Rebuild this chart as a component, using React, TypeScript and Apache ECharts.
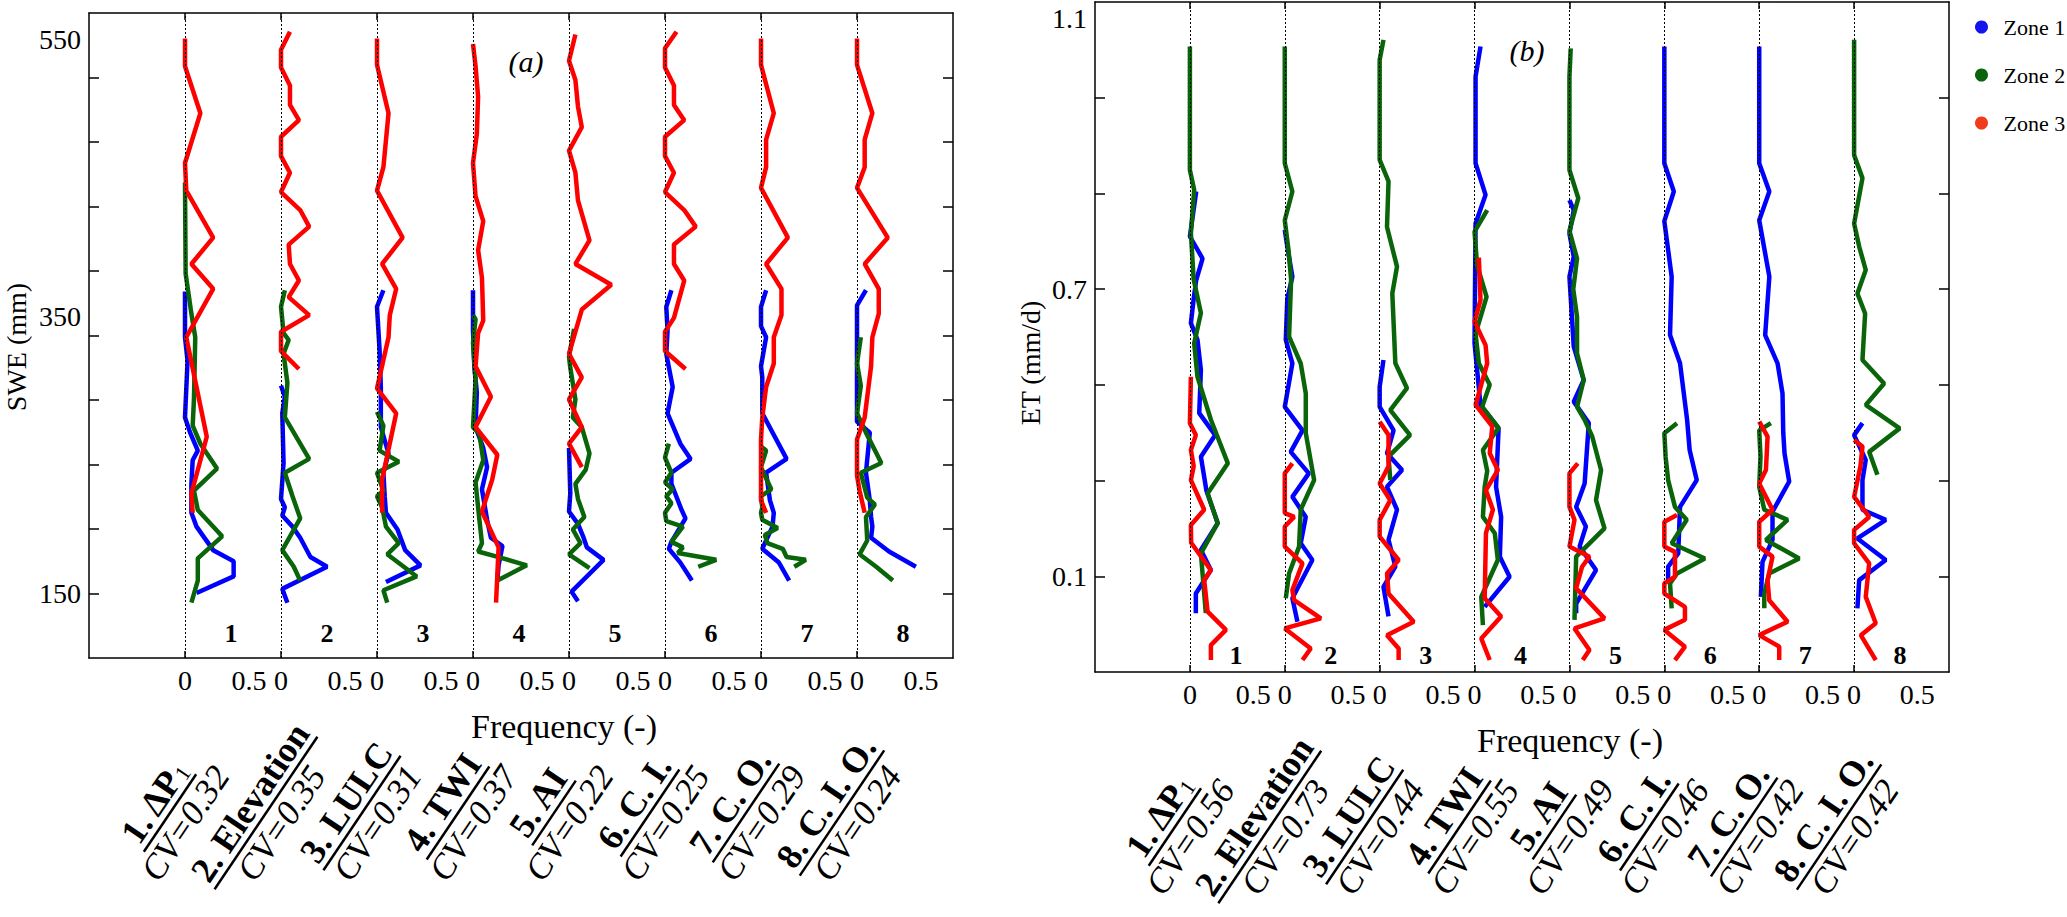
import { useEffect, useRef } from 'react';
import * as echarts from 'echarts';

type Pt = [number, number];

const FONT = 'Liberation Serif, Times New Roman, serif';

const ZONES = ['Zone 1', 'Zone 2', 'Zone 3'];
const ZONE_COLORS = ['#0000ff', '#0a650a', '#ff0000'];
const LEGEND_COLORS = ['#1414ee', '#0a650a', '#f23a1c'];

const COLUMN_NUMBERS = ['1', '2', '3', '4', '5', '6', '7', '8'];
const FACTORS = ['1. ΔP', '2. Elevation', '3. LULC', '4. TWI', '5. AI', '6. C. I.', '7. C. O.', '8. C. I. O.'];
const FACTOR_SUBS = ['1', '', '', '', '', '', '', ''];
const CV_SWE = [0.32, 0.35, 0.31, 0.37, 0.22, 0.25, 0.29, 0.24];
const CV_ET = [0.56, 0.73, 0.44, 0.55, 0.49, 0.46, 0.42, 0.42];

// every small panel takes 0.75 frequency units on the shared x axis
const COL_STEP = 0.75;
const FREQ_TICKS = [0, 0.5];
const FREQ_TICK_TEXT = ['0', '0.5'];

const SWE_LABELS = [150, 350, 550];
const SWE_TICKS = [150, 200, 250, 300, 350, 400, 450, 500, 550];
const ET_LABELS = ['0.1', '0.7', '1.1'];
const ET_LABEL_AT = [0.1, 0.7, 1.265];
const ET_TICKS = [0.1, 0.3, 0.5, 0.7, 0.9, 1.1];

// (a) SWE, points are [frequency, SWE] per column
const SWE_Z1: Pt[][] = [
  [[0, 368], [0, 335], [0.02, 318], [0, 277], [0.04, 266], [0.1, 253], [0.06, 246], [0.05, 229], [0.05, 208], [0.09, 198], [0.22, 181], [0.38, 173], [0.38, 162], [0.09, 150]],
  [[0, 300], [0.03, 292], [0.01, 280], [0.02, 244], [0, 218], [0.03, 212], [0.01, 206], [0.09, 198], [0.15, 190], [0.23, 176], [0.36, 169], [0.01, 153], [0.05, 143]],
  [[0.05, 369], [0, 357], [0.02, 326], [0.03, 299], [0.03, 270], [0.09, 251], [0.05, 237], [0.06, 220], [0.07, 208], [0.16, 196], [0.22, 181], [0.34, 170], [0.07, 158]],
  [[0, 369], [0, 340], [0.01, 314], [0.03, 295], [0.02, 270], [0.08, 255], [0.11, 241], [0.07, 225], [0.11, 203], [0.14, 190], [0.23, 184], [0.2, 170], [0.19, 159]],
  [[0, 255], [0.01, 222], [0, 209], [0.07, 200], [0.11, 191], [0.14, 183], [0.27, 174], [0.02, 151], [0.07, 144]],
  [[0.05, 369], [0.01, 357], [0.02, 340], [0.01, 323], [0.06, 299], [0.02, 280], [0.12, 258], [0.2, 247], [0.05, 237], [0.05, 229], [0.13, 210], [0.16, 204], [0.05, 187], [0.03, 182], [0.12, 172], [0.21, 159]],
  [[0.04, 369], [0, 357], [0, 343], [0.04, 335], [0, 314], [0.01, 306], [0.01, 280], [0.2, 247], [0.04, 237], [0.07, 217], [0.1, 208], [0.09, 198], [0.01, 182], [0.14, 172], [0.22, 159]],
  [[0.07, 369], [0, 358], [0, 274], [0.1, 266], [0.07, 237], [0.1, 217], [0.11, 205], [0.12, 198], [0.11, 190], [0.25, 180], [0.46, 169]],
];
const SWE_Z2: Pt[][] = [
  [[0, 447], [0.005, 381], [0.05, 352], [0.08, 335], [0.07, 290], [0.06, 271], [0.12, 258], [0.25, 240], [0.07, 224], [0.1, 210], [0.29, 191], [0.1, 175], [0.1, 159], [0.05, 143]],
  [[0.03, 369], [0, 357], [0.02, 338], [0.06, 333], [0.02, 323], [0.05, 302], [0.03, 277], [0.22, 247], [0.03, 237], [0.09, 220], [0.15, 204], [0.01, 181], [0.1, 169], [0.15, 159]],
  [[0, 281], [0.05, 271], [0.02, 253], [0.17, 245], [0, 237], [0.05, 224], [0, 220], [0.04, 212], [0.07, 198], [0.17, 186], [0.08, 178], [0.31, 162], [0.05, 152], [0.08, 143]],
  [[0, 351], [0.02, 348], [0, 331], [0.02, 304], [0, 270], [0.05, 265], [0.08, 246], [0.02, 230], [0.05, 203], [0.07, 186], [0.04, 180], [0.2, 176], [0.42, 170], [0.19, 159]],
  [[0.04, 341], [0, 321], [0.01, 313], [0.05, 290], [0.03, 277], [0.1, 270], [0.16, 251], [0.13, 239], [0.05, 229], [0.07, 218], [0.12, 205], [0.03, 196], [0.09, 186], [0, 178], [0.16, 168]],
  [[0.03, 258], [0, 248], [0.05, 237], [0, 230], [0.06, 225], [0.01, 220], [0.05, 215], [0, 208], [0.01, 202], [0.14, 198], [0.05, 187], [0.14, 183], [0.1, 179], [0.4, 174], [0.26, 169]],
  [[0, 256], [0.04, 253], [0, 241], [0.08, 225], [0, 220], [0.01, 212], [0, 208], [0.01, 203], [0.13, 197], [0.03, 192], [0.05, 186], [0.17, 182], [0.2, 176], [0.35, 174], [0.26, 169]],
  [[0.03, 335], [0, 316], [0.03, 300], [0, 280], [0.07, 266], [0.19, 244], [0.03, 237], [0.08, 219], [0.14, 214], [0.07, 205], [0.08, 188], [0.02, 178], [0.15, 169], [0.28, 159]],
];
const SWE_Z3: Pt[][] = [
  [[0, 551], [0, 531], [0.12, 497], [0, 461], [0.01, 441], [0.22, 407], [0.05, 388], [0.22, 370], [0.01, 335], [0.17, 263], [0.05, 222], [0.06, 208]],
  [[0.07, 556], [0, 543], [0, 530], [0.07, 517], [0.07, 503], [0.14, 492], [0, 480], [0, 466], [0.07, 454], [0, 440], [0.15, 427], [0.22, 415], [0.06, 402], [0.07, 388], [0.14, 376], [0.06, 364], [0.22, 351], [0, 339], [0, 325], [0.14, 312]],
  [[0, 551], [0, 532], [0.09, 497], [0.05, 458], [0, 441], [0.2, 407], [0.04, 388], [0.15, 370], [0.1, 351], [0.09, 335], [0, 298], [0.15, 280], [0.04, 232], [0.04, 208]],
  [[0, 547], [0.02, 531], [0.04, 509], [0.03, 482], [0, 461], [0.02, 437], [0.08, 419], [0.04, 398], [0.07, 378], [0.08, 347], [0.04, 338], [0.02, 314], [0.14, 292], [0.02, 270], [0.19, 250], [0.15, 232], [0.07, 209], [0.2, 183], [0.18, 143]],
  [[0.05, 554], [0, 535], [0.05, 521], [0.07, 502], [0.1, 487], [0, 470], [0.05, 454], [0.07, 434], [0.16, 405], [0.05, 388], [0.33, 373], [0.1, 355], [0, 323], [0.1, 306], [0, 290], [0.1, 270], [0, 258], [0.1, 241]],
  [[0.09, 556], [0, 544], [0, 530], [0.07, 517], [0.07, 503], [0.15, 492], [0, 480], [0, 466], [0.07, 454], [0, 440], [0.15, 427], [0.24, 415], [0.07, 402], [0.07, 388], [0.15, 376], [0.07, 349], [0, 339], [0, 325], [0.16, 312]],
  [[0, 551], [0, 532], [0.1, 497], [0.04, 478], [0.04, 458], [0, 443], [0.21, 407], [0.04, 388], [0.16, 370], [0.16, 351], [0.1, 335], [0.1, 316], [0.04, 299], [0.01, 277], [0, 261], [0, 217], [0.04, 208]],
  [[0, 551], [0, 532], [0.12, 497], [0.06, 478], [0.06, 458], [0, 443], [0.24, 407], [0.06, 388], [0.17, 370], [0.17, 352], [0.12, 335], [0.11, 314], [0.06, 277], [0, 261], [0, 235], [0.02, 224], [0.06, 208]],
];

// (b) ET, points are [frequency, ET] per column
const ET_Z1: Pt[][] = [
  [[0.05, 0.904], [0, 0.81], [0.1, 0.764], [0.05, 0.719], [0.03, 0.68], [0.008, 0.629], [0.06, 0.594], [0.087, 0.531], [0.074, 0.441], [0.2, 0.395], [0.087, 0.35], [0.13, 0.28], [0.22, 0.211], [0.087, 0.155], [0.166, 0.113], [0.047, 0.064], [0.047, 0.023]],
  [[0, 0.824], [0.02, 0.789], [0.06, 0.726], [0.02, 0.68], [0.008, 0.594], [0.06, 0.545], [0, 0.454], [0.14, 0.405], [0.047, 0.36], [0.19, 0.315], [0.06, 0.266], [0.166, 0.224], [0.126, 0.169], [0.218, 0.134], [0.06, 0.054], [0.1, 0.005]],
  [[0.03, 0.552], [0, 0.496], [0, 0.454], [0.11, 0.405], [0.058, 0.357], [0.177, 0.322], [0.058, 0.287], [0.137, 0.239], [0.07, 0.176], [0.124, 0.12], [0.03, 0.078], [0.07, 0.016]],
  [[0.047, 1.207], [0.008, 1.144], [0.008, 0.963], [0.087, 0.897], [0.008, 0.837], [0, 0.587], [0.047, 0.458], [0.19, 0.409], [0.17, 0.287], [0.21, 0.224], [0.2, 0.141], [0.277, 0.099], [0.08, 0.036]],
  [[0, 0.886], [0.034, 0.865], [0, 0.816], [0.034, 0.768], [0, 0.726], [0.034, 0.58], [0.113, 0.51], [0.034, 0.465], [0.153, 0.42], [0.12, 0.294], [0.053, 0.245], [0.13, 0.204], [0.08, 0.162], [0.21, 0.113], [0.053, 0.043], [0.053, 0.023]],
  [[0, 1.207], [0, 0.963], [0.075, 0.904], [0, 0.842], [0.058, 0.726], [0.045, 0.604], [0.124, 0.545], [0.18, 0.427], [0.2, 0.364], [0.256, 0.301], [0.124, 0.245], [0.11, 0.148], [0.03, 0.12], [0.03, 0.092]],
  [[0, 1.207], [0, 0.963], [0.08, 0.904], [0, 0.844], [0.08, 0.726], [0.047, 0.604], [0.145, 0.545], [0.184, 0.482], [0.19, 0.4], [0.2, 0.357], [0.237, 0.298], [0.105, 0.235], [0.105, 0.176], [0.026, 0.13], [0.013, 0.057]],
  [[0.066, 0.42], [0, 0.395], [0.092, 0.343], [0.066, 0.301], [0.066, 0.239], [0.25, 0.218], [0.026, 0.179], [0.25, 0.134], [0.04, 0.092], [0.026, 0.033]],
];
const ET_Z2: Pt[][] = [
  [[0, 1.207], [0, 0.949], [0.034, 0.907], [0.008, 0.817], [0.03, 0.72], [0.087, 0.65], [0.034, 0.587], [0.06, 0.517], [0.166, 0.427], [0.3, 0.336], [0.14, 0.273], [0.22, 0.211], [0.087, 0.148], [0.1, 0.106], [0.126, 0.023]],
  [[0, 1.207], [0, 0.963], [0.06, 0.904], [0, 0.844], [0.03, 0.78], [0.05, 0.72], [0.034, 0.601], [0.126, 0.545], [0.166, 0.482], [0.166, 0.399], [0.232, 0.301], [0.126, 0.239], [0.113, 0.162], [0.034, 0.106], [0.008, 0.054]],
  [[0.03, 1.221], [0, 1.179], [0, 0.97], [0.07, 0.925], [0.058, 0.83], [0.137, 0.747], [0.1, 0.691], [0.124, 0.545], [0.216, 0.493], [0.084, 0.447], [0.24, 0.395], [0.07, 0.35], [0.084, 0.301]],
  [[0.1, 0.865], [0, 0.82], [0.02, 0.75], [0.095, 0.684], [0.008, 0.607], [0.034, 0.545], [0.12, 0.5], [0.06, 0.454], [0.19, 0.41], [0.066, 0.364], [0.1, 0.32], [0.08, 0.287], [0.066, 0.224], [0.16, 0.19], [0.184, 0.134], [0.053, 0.057], [0.066, -0.002]],
  [[0.01, 1.203], [0, 1.144], [0, 0.949], [0.07, 0.89], [0, 0.822], [0.06, 0.764], [0.03, 0.7], [0.06, 0.642], [0.06, 0.566], [0.113, 0.51], [0.06, 0.454], [0.12, 0.427], [0.18, 0.392], [0.25, 0.322], [0.21, 0.259], [0.277, 0.2], [0.053, 0.141], [0.04, 0.009]],
  [[0.1, 0.42], [0, 0.399], [0.01, 0.35], [0.03, 0.301], [0.084, 0.245], [0.177, 0.218], [0.058, 0.169], [0.32, 0.137], [0.1, 0.106], [0.045, 0.085], [0.058, 0.033]],
  [[0.092, 0.42], [0, 0.405], [0.01, 0.35], [0, 0.287], [0.04, 0.239], [0.224, 0.218], [0.053, 0.176], [0.316, 0.137], [0.079, 0.106], [0.04, 0.064], [0.04, 0.033]],
  [[0, 1.221], [0, 0.98], [0.066, 0.932], [0, 0.837], [0.04, 0.789], [0.092, 0.74], [0.026, 0.691], [0.087, 0.649], [0.066, 0.552], [0.237, 0.503], [0.092, 0.458], [0.36, 0.409], [0.119, 0.36], [0.184, 0.312]],
];
const ET_Z3: Pt[][] = [
  [[0.008, 0.517], [0, 0.42], [0.047, 0.395], [0.008, 0.364], [0.03, 0.33], [0.008, 0.301], [0.113, 0.239], [0.008, 0.207], [0.01, 0.17], [0.166, 0.113], [0.113, 0.092], [0.14, 0.026], [0.285, -0.012], [0.166, -0.044], [0.166, -0.075]],
  [[0.06, 0.336], [0, 0.315], [0, 0.232], [0.074, 0.224], [0, 0.204], [0, 0.162], [0.14, 0.127], [0.06, 0.071], [0.074, 0.05], [0.285, 0.012], [0, -0.009], [0.205, -0.051], [0.14, -0.075]],
  [[0, 0.423], [0.07, 0.395], [0.07, 0.33], [0, 0.294], [0.084, 0.259], [0, 0.218], [0, 0.183], [0.15, 0.134], [0.058, 0.106], [0.07, 0.064], [0.269, 0.005], [0.058, -0.023], [0.15, -0.051], [0.15, -0.075]],
  [[0.034, 0.766], [0.047, 0.677], [0, 0.632], [0.087, 0.583], [0.1, 0.545], [0.008, 0.458], [0.14, 0.413], [0.12, 0.357], [0.184, 0.322], [0.09, 0.28], [0.145, 0.239], [0.09, 0.19], [0.08, 0.054], [0.21, 0.016], [0.053, -0.03], [0.12, -0.075]],
  [[0.066, 0.336], [0, 0.315], [0, 0.245], [0.04, 0.218], [0, 0.162], [0.158, 0.141], [0.1, 0.12], [0.053, 0.075], [0.277, 0.012], [0.04, -0.009], [0.158, -0.054], [0.105, -0.075]],
  [[0.1, 0.228], [0, 0.214], [0, 0.162], [0.084, 0.151], [0.084, 0.099], [0, 0.085], [0, 0.064], [0.163, 0.036], [0.163, 0.009], [0, -0.012], [0.163, -0.047], [0.084, -0.075]],
  [[0, 0.423], [0.066, 0.392], [0.053, 0.322], [0, 0.294], [0.105, 0.239], [0, 0.214], [0, 0.162], [0.105, 0.141], [0.066, 0.092], [0.079, 0.05], [0.224, 0.005], [0, -0.023], [0.158, -0.047], [0.158, -0.075]],
  [[0, 0.385], [0.066, 0.371], [0.05, 0.33], [0, 0.266], [0.119, 0.224], [0, 0.197], [0, 0.169], [0.119, 0.127], [0.092, 0.057], [0.171, 0.002], [0.053, -0.023], [0.171, -0.075]],
];

const PANELS = [
  {
    zones: [SWE_Z1, SWE_Z2, SWE_Z3],
    cv: CV_SWE,
    tag: '(a)',
    yName: 'SWE (mm)',
    grid: { left: 89, top: 13, width: 864, height: 645 },
    dataRange: [103, 569.5],
    tickRange: [100, 600],
    labelAt: SWE_LABELS,
    labelText: SWE_LABELS.map(String),
    ticks: SWE_TICKS,
    yNameX: 16,
    yNameY: 347,
    numberLift: 25,
  },
  {
    zones: [ET_Z1, ET_Z2, ET_Z3],
    cv: CV_ET,
    tag: '(b)',
    yName: 'ET (mm/d)',
    grid: { left: 1095, top: 2, width: 854, height: 670 },
    dataRange: [-0.1, 1.3],
    tickRange: [-0.1, 1.3],
    labelAt: ET_LABEL_AT,
    labelText: ET_LABELS,
    ticks: ET_TICKS,
    yNameX: 1030,
    yNameY: 363,
    numberLift: 17,
  },
];

const colZeros = COLUMN_NUMBERS.map((_, k) => k * COL_STEP);
const freqAt = colZeros.flatMap((z) => FREQ_TICKS.map((t) => z + t));
const freqText = colZeros.flatMap(() => FREQ_TICK_TEXT);

const pick = (at: number[], text: string[], v: number) => {
  const i = at.findIndex((a) => Math.abs(a - v) < 1e-6);
  return i < 0 ? '' : text[i];
};

// plain graphic text given as one css font string
const plain = (text: string, font: string, extra: Record<string, any> = {}) => ({
  text,
  font: `${font} ${FONT}`,
  fill: '#000',
  align: 'center',
  verticalAlign: 'middle',
  ...extra,
});

export default function App() {
  const chartRef = useRef<HTMLDivElement>(null);

  useEffect(() => {
    if (!chartRef.current) return;
    const chart = echarts.init(chartRef.current, undefined, { renderer: 'svg' });

    const axisLine = { show: true, onZero: false, lineStyle: { color: '#000', width: 1.5 } };
    const tickLine = { color: '#000', width: 1.5 };
    const labelStyle = { color: '#000', fontFamily: FONT, fontSize: 28 };

    const xAxis = PANELS.flatMap((_, p) => {
      const base = {
        type: 'value' as const,
        gridIndex: p,
        min: -COL_STEP,
        max: COL_STEP * COLUMN_NUMBERS.length,
        axisLine,
        splitLine: { show: false },
        axisTick: { show: true, inside: true, length: 7, lineStyle: tickLine, customValues: colZeros },
      };
      return [
        {
          ...base,
          position: 'bottom',
          axisLabel: {
            ...labelStyle,
            margin: 8,
            customValues: freqAt,
            formatter: (v: number) => pick(freqAt, freqText, v),
          },
        },
        { ...base, position: 'top', axisLabel: { show: false } },
      ];
    });

    const yAxis = PANELS.flatMap((P, p) => [
      {
        type: 'value',
        gridIndex: p,
        position: 'left',
        min: P.dataRange[0],
        max: P.dataRange[1],
        axisLine,
        splitLine: { show: false },
        axisTick: { show: false },
        axisLabel: {
          ...labelStyle,
          margin: 8,
          customValues: P.labelAt,
          formatter: (v: number) => pick(P.labelAt, P.labelText, v),
        },
      },
      {
        type: 'value',
        gridIndex: p,
        position: 'left',
        min: P.tickRange[0],
        max: P.tickRange[1],
        axisLine: { show: false, onZero: false },
        splitLine: { show: false },
        axisLabel: { show: false },
        axisTick: { show: true, inside: true, length: 10, lineStyle: tickLine, customValues: P.ticks },
      },
      {
        type: 'value',
        gridIndex: p,
        position: 'right',
        min: P.tickRange[0],
        max: P.tickRange[1],
        axisLine,
        splitLine: { show: false },
        axisLabel: { show: false },
        axisTick: { show: true, inside: true, length: 10, lineStyle: tickLine, customValues: P.ticks },
      },
    ]);

    const series = PANELS.flatMap((P, p) => [
      {
        type: 'line',
        xAxisIndex: 2 * p,
        yAxisIndex: 3 * p,
        data: [],
        silent: true,
        z: 1,
        markLine: {
          silent: true,
          symbol: ['none', 'none'],
          label: { show: false },
          lineStyle: { color: '#000', width: 1, type: [2, 2] },
          data: colZeros.map((z) => ({ xAxis: z })),
        },
      },
      ...[0, 1, 2].flatMap((zi) =>
        P.zones[zi].map((pts, k) => ({
          type: 'line',
          name: ZONES[zi],
          xAxisIndex: 2 * p,
          yAxisIndex: 3 * p,
          data: pts.map(([f, v]) => [k * COL_STEP + f, v]),
          showSymbol: false,
          symbol: 'none',
          silent: true,
          z: 2 + zi,
          lineStyle: { color: ZONE_COLORS[zi], width: 4.5 },
          itemStyle: { color: ZONE_COLORS[zi] },
        })),
      ),
    ]);

    chart.setOption({
      animation: false,
      textStyle: { fontFamily: FONT },
      grid: PANELS.map((P) => ({ ...P.grid, containLabel: false })),
      xAxis,
      yAxis,
      legend: {
        data: ZONES.map((name, i) => ({ name, itemStyle: { color: LEGEND_COLORS[i] } })),
        orient: 'vertical',
        left: 1970,
        top: 10,
        icon: 'circle',
        itemWidth: 24,
        itemHeight: 13,
        itemGap: 24,
        selectedMode: false,
        textStyle: { color: '#000', fontFamily: FONT, fontSize: 22, lineHeight: 24, padding: [0, 0, 0, 5] },
      },
      series,
    });

    // annotations placed from the axes' own pixel positions
    const ctx = document.createElement('canvas').getContext('2d')!;
    const measure = (font: string, text: string) => {
      ctx.font = font;
      return ctx.measureText(text).width;
    };
    const angle = (56 * Math.PI) / 180;
    const graphic: any[] = [];

    PANELS.forEach((P, p) => {
      const { left, top, height } = P.grid;
      const bottom = top + height;
      const zeroPx = colZeros.map((z) => chart.convertToPixel({ xAxisIndex: 2 * p }, z) as number);

      graphic.push({
        type: 'text',
        x: (zeroPx[3] + zeroPx[4]) / 2 + 5,
        y: top + 48,
        style: plain(P.tag, 'italic 30px'),
      });
      graphic.push({
        type: 'text',
        x: P.yNameX,
        y: P.yNameY,
        rotation: Math.PI / 2,
        style: plain(P.yName, '28px'),
      });
      graphic.push({
        type: 'text',
        x: left + 475,
        y: bottom + 68,
        style: plain('Frequency (-)', '34px'),
      });

      COLUMN_NUMBERS.forEach((num, k) => {
        graphic.push({
          type: 'text',
          x: zeroPx[k] + 46,
          y: bottom - P.numberLift,
          style: plain(num, 'bold 26px'),
        });

        const name = FACTORS[k];
        const sub = FACTOR_SUBS[k];
        const w = measure(`bold 36px ${FONT}`, name) + (sub ? measure(`22px ${FONT}`, sub) : 0);
        graphic.push({
          type: 'group',
          x: zeroPx[k] - 15,
          y: bottom + 155,
          rotation: angle,
          children: [
            {
              type: 'text',
              x: 0,
              y: -1,
              style: sub
                ? {
                    text: `{b|${name}}{s|${sub}}`,
                    rich: {
                      b: { fontFamily: FONT, fontSize: 36, fontWeight: 'bold', fill: '#000' },
                      s: { fontFamily: FONT, fontSize: 22, fill: '#000', padding: [14, 0, 0, 0] },
                    },
                    align: 'center',
                    verticalAlign: 'bottom',
                  }
                : plain(name, 'bold 36px', { verticalAlign: 'bottom' }),
            },
            {
              type: 'line',
              shape: { x1: -w / 2 - 1, y1: 0, x2: w / 2 + 1, y2: 0 },
              style: { stroke: '#000', lineWidth: 2.5 },
            },
            {
              type: 'text',
              x: 0,
              y: 1,
              style: plain(`CV=${P.cv[k].toFixed(2)}`, 'italic 35px', { verticalAlign: 'top' }),
            },
          ],
        });
      });
    });

    chart.setOption({ graphic });

    return () => {
      chart.dispose();
    };
  }, []);

  return <div ref={chartRef} style={{ position: 'fixed', left: 0, top: 0, width: 2067, height: 917, background: '#fff' }} />;
}
